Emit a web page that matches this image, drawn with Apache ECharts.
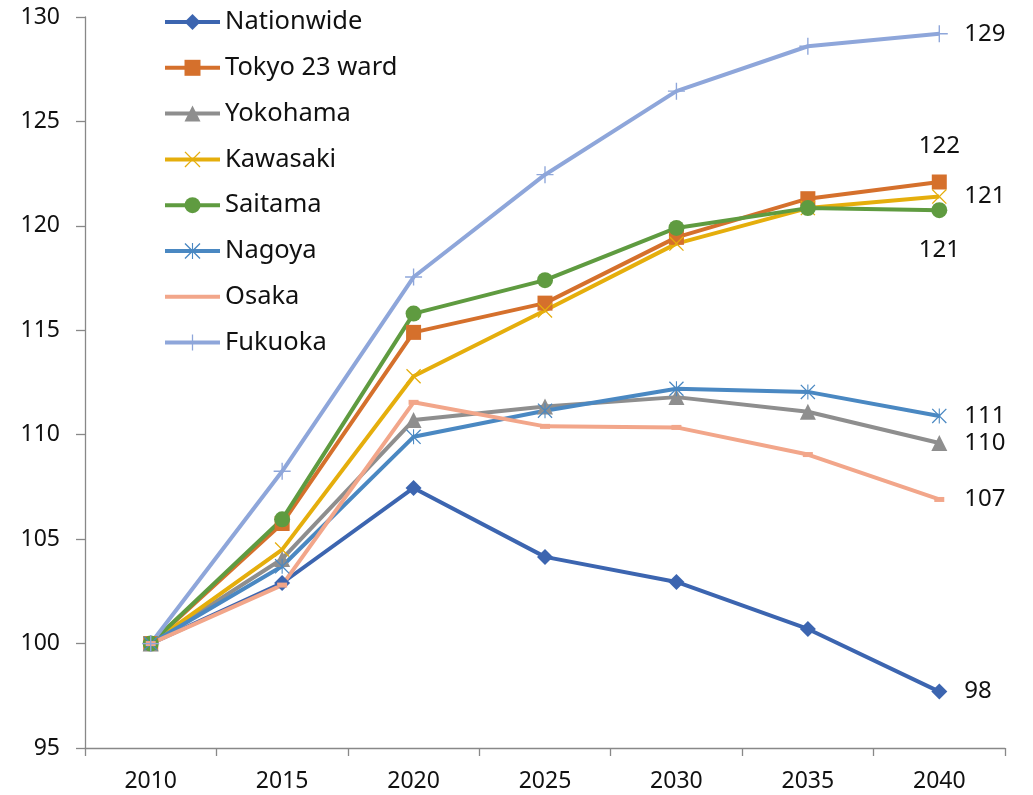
<!DOCTYPE html>
<html>
<head>
<meta charset="utf-8">
<script src="https://cdn.jsdelivr.net/npm/echarts@6/dist/echarts.min.js"></script>
<style>
  html, body { margin: 0; padding: 0; background: #fff; }
  #chart { width: 1033px; height: 795px; }
</style>
</head>
<body>
<div id="chart"></div>
<script>
// data (index, 2010 = 100)
var years = ['2010', '2015', '2020', '2025', '2030', '2035', '2040'];
var nationwide = [100, 102.9, 107.45, 104.15, 102.95, 100.7, 97.7];
var tokyo = [100, 105.75, 114.9, 116.3, 119.45, 121.3, 122.1];
var yokohama = [100, 104.05, 110.7, 111.35, 111.8, 111.1, 109.6];
var kawasaki = [100, 104.5, 112.8, 115.95, 119.15, 120.85, 121.4];
var saitama = [100, 105.95, 115.8, 117.4, 119.9, 120.85, 120.75];
var nagoya = [100, 103.7, 109.9, 111.15, 112.2, 112.05, 110.9];
var osaka = [100, 102.8, 111.55, 110.4, 110.35, 109.05, 106.9];
var fukuoka = [100, 108.25, 117.55, 122.45, 126.45, 128.6, 129.2];
var yTicks = { min: 95, max: 130, step: 5 };

var FONT = '"Noto Sans", sans-serif';

// stroke-like marker shapes drawn as thin filled paths
var crossX = 'path://M0,1.2 L1.2,0 L10,8.8 L18.8,0 L20,1.2 L11.2,10 L20,18.8 L18.8,20 L10,11.2 L1.2,20 L0,18.8 L8.8,10 Z';
var star = crossX + ' M9.3,0 L10.7,0 L10.7,20 L9.3,20 Z';
var plus = 'path://M9.2,0 L10.8,0 L10.8,9.2 L20,9.2 L20,10.8 L10.8,10.8 L10.8,20 L9.2,20 L9.2,10.8 L0,10.8 L0,9.2 L9.2,9.2 Z';
var dash = 'path://M0,0 L20,0 L20,10 L0,10 Z';

var defs = [
  { name: 'Nationwide', data: nationwide, color: '#3c65b0', symbol: 'diamond', size: 16, pos: 'right' },
  { name: 'Tokyo 23 ward', data: tokyo, color: '#d5702c', symbol: 'rect', size: 15, pos: 'top' },
  { name: 'Yokohama', data: yokohama, color: '#8e8e8e', symbol: 'triangle', size: 16, pos: 'right' },
  { name: 'Kawasaki', data: kawasaki, color: '#e5ae0c', symbol: crossX, size: 15, pos: 'right' },
  { name: 'Saitama', data: saitama, color: '#5f9b40', symbol: 'circle', size: 16, pos: 'bottom' },
  { name: 'Nagoya', data: nagoya, color: '#4a88c2', symbol: star, size: 15, pos: 'right' },
  { name: 'Osaka', data: osaka, color: '#f2a68a', symbol: dash, size: 10, pos: 'right' },
  { name: 'Fukuoka', data: fukuoka, color: '#8ea6da', symbol: plus, size: 17, pos: 'right' }
];

var series = defs.map(function (d) {
  var dist = d.pos === 'right' ? 25 - d.size / 2 : (d.pos === 'top' ? 16 : 20);
  return {
    name: d.name,
    type: 'line',
    data: d.data.map(function (v, i) {
      if (i !== d.data.length - 1) return v;
      return {
        value: v,
        label: {
          show: true,
          position: d.pos,
          distance: dist,
          formatter: function (p) { return Math.round(p.value); },
          color: '#111',
          fontSize: 24,
          fontFamily: FONT
        }
      };
    }),
    symbol: d.symbol,
    symbolSize: d.size,
    symbolKeepAspect: true,
    showAllSymbol: true,
    itemStyle: { color: d.color },
    lineStyle: { color: d.color, width: 4 },
    animation: false
  };
});

var myChart = echarts.init(document.getElementById('chart'));
var option = {
  backgroundColor: '#fff',
  animation: false,
  grid: { left: 85, right: 28, top: 17, bottom: 47, containLabel: false },
  legend: {
    orient: 'vertical',
    left: 163,
    top: 9,
    padding: 0,
    itemWidth: 55,
    itemHeight: 20,
    itemGap: 19.8,
    lineStyle: { width: 4 },
    textStyle: { color: '#111', fontSize: 25.5, fontFamily: FONT, lineHeight: 24 },
    data: defs.map(function (d) {
      // the Osaka dash marker disappears into its line in the legend
      if (d.name === 'Osaka') return { name: d.name, itemStyle: { opacity: 0 } };
      return d.name;
    })
  },
  xAxis: {
    type: 'category',
    data: years,
    boundaryGap: true,
    axisLine: { lineStyle: { color: '#888', width: 1.3 } },
    axisTick: { show: true, length: 8, lineStyle: { color: '#888', width: 1.3 } },
    axisLabel: { color: '#111', fontSize: 23, fontFamily: FONT, margin: 22 },
    splitLine: { show: false }
  },
  yAxis: {
    type: 'value',
    min: yTicks.min,
    max: yTicks.max,
    interval: yTicks.step,
    axisLine: { show: true, lineStyle: { color: '#888', width: 1.3 } },
    axisTick: { show: true, length: 9, lineStyle: { color: '#888', width: 1.3 } },
    axisLabel: { color: '#111', fontSize: 23, fontFamily: FONT, margin: 25 },
    splitLine: { show: false }
  },
  series: series
};
myChart.setOption(option);
</script>
</body>
</html>
